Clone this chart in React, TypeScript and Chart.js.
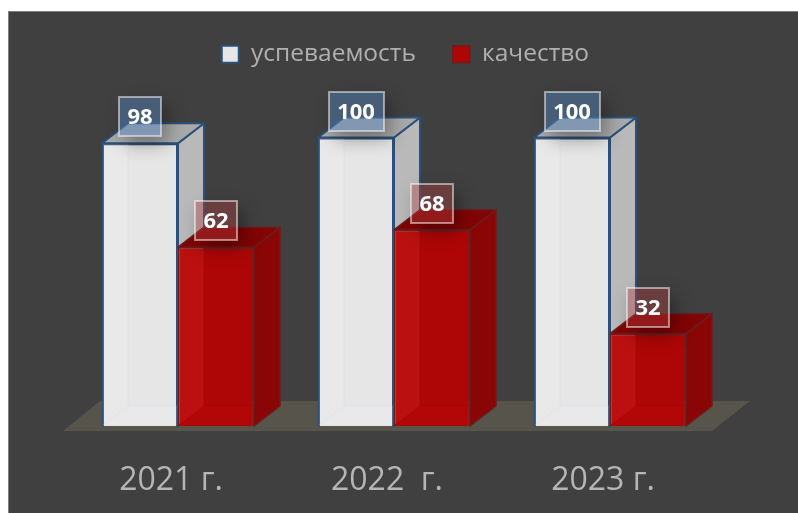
import React, { useEffect, useRef } from "react";
import { Chart, registerables } from "chart.js";

Chart.register(...registerables);

const categories = ["2021 г.", "2022  г.", "2023 г."];
const uspevaemost = [98, 100, 100];
const kachestvo = [62, 68, 32];

const FONT = '"Open Sans", sans-serif';
const DX = 26;
const DY = 20;

const faces: any[] = [
  {
    side: "#b9b9b9", top: "#a9a9a9", stroke: "#2c5079", lw: 2,
    strip: "rgba(255,255,255,0.14)", floor: "rgba(255,255,255,0.12)", inner: "rgba(190,210,235,0.22)",
    boxFill: "rgba(79,129,189,0.45)",
  },
  {
    side: "#8a0606", top: "#820404", stroke: "#6b1e1e", lw: 1.5,
    strip: "rgba(255,70,70,0.16)", floor: "rgba(255,30,30,0.07)", inner: "rgba(150,0,0,0.3)",
    boxFill: "rgba(170,60,60,0.4)",
  },
];

function poly(ctx: CanvasRenderingContext2D, pts: number[][], fill: string | null, stroke?: string, lw?: number) {
  ctx.beginPath();
  pts.forEach((p, i) => (i ? ctx.lineTo(p[0], p[1]) : ctx.moveTo(p[0], p[1])));
  ctx.closePath();
  if (fill) {
    ctx.fillStyle = fill;
    ctx.fill();
  }
  if (stroke) {
    ctx.strokeStyle = stroke;
    ctx.lineWidth = lw || 1;
    ctx.lineJoin = "round";
    ctx.stroke();
  }
}

function drawBack(ctx: CanvasRenderingContext2D, meta: any, f: any) {
  ctx.save();
  meta.data.forEach((b: any) => {
    const r = b.x + b.width / 2;
    const l = b.x - b.width / 2;
    poly(ctx, [[r, b.y], [r + DX, b.y - DY], [r + DX, b.base - DY], [r, b.base]], f.side, f.stroke, f.lw);
    poly(ctx, [[l, b.y], [l + DX, b.y - DY], [r + DX, b.y - DY], [r, b.y]], f.top, f.stroke, f.lw);
  });
  ctx.restore();
}

function drawGlass(ctx: CanvasRenderingContext2D, meta: any, f: any) {
  ctx.save();
  meta.data.forEach((b: any) => {
    const r = b.x + b.width / 2 - 1;
    const l = b.x - b.width / 2 + 1;
    const t = b.y + 1;
    const bb = b.base - 1;
    poly(ctx, [[l, t], [l + DX - 1, t], [l + DX - 1, bb - DY + 1], [l, bb]], f.strip);
    poly(ctx, [[l, bb], [l + DX - 1, bb - DY + 1], [r, bb - DY + 1], [r, bb]], f.floor);
    ctx.strokeStyle = f.inner;
    ctx.lineWidth = 1;
    ctx.beginPath();
    ctx.moveTo(l + DX - 1, t);
    ctx.lineTo(l + DX - 1, bb - DY + 1);
    ctx.lineTo(l, bb);
    ctx.moveTo(l + DX - 1, bb - DY + 1);
    ctx.lineTo(r, bb - DY + 1);
    ctx.stroke();
  });
  ctx.restore();
}

const scene3d = {
  id: "scene3d",
  afterLayout(chart: any) {
    const l = chart.legend;
    if (l) {
      l.left += 11.4;
      l.right += 11.4;
      l.top -= 61;
      l.bottom -= 61;
    }
  },
  beforeDraw(chart: any) {
    const { ctx, width, height } = chart;
    ctx.save();
    ctx.fillStyle = "#404040";
    ctx.fillRect(0, 0, width, height);
    ctx.fillStyle = "#7f7f7f";
    ctx.fillRect(0, 0, width, 1);
    ctx.fillRect(0, 0, 1, height);
    ctx.restore();
  },
  beforeDatasetsDraw(chart: any) {
    const { ctx, chartArea } = chart;
    const base = chart.scales.y.getPixelForValue(0);
    ctx.save();
    poly(
      ctx,
      [
        [chartArea.left - 7, base + 5],
        [chartArea.right - 6, base + 5],
        [chartArea.right + 32, base - 25],
        [chartArea.left + 30, base - 25],
      ],
      "#57544c"
    );
    ctx.restore();
  },
  // Chart.js paints the last dataset first; the first series must lie beneath
  // the second here, so it is painted from the second series' hook.
  beforeDatasetDraw(chart: any, args: any) {
    const { ctx } = chart;
    if (args.index === 0) return false;
    const first = chart.getDatasetMeta(0);
    drawBack(ctx, first, faces[0]);
    first.controller.draw();
    drawGlass(ctx, first, faces[0]);
    drawBack(ctx, args.meta, faces[args.index]);
    return true;
  },
  afterDatasetDraw(chart: any, args: any) {
    if (args.index !== 0) drawGlass(chart.ctx, args.meta, faces[args.index]);
  },
  afterDatasetsDraw(chart: any) {
    const { ctx } = chart;
    chart.data.datasets.forEach((ds: any, i: number) => {
      const f = faces[i];
      chart.getDatasetMeta(i).data.forEach((b: any, j: number) => {
        const text = String(ds.data[j]);
        ctx.save();
        ctx.font = `bold 22px ${FONT}`;
        const w = Math.round(ctx.measureText(text).width) + 17;
        const h = 39;
        const x = Math.round(b.x - w / 2);
        const y = Math.round(b.y - 26.5 - h / 2);
        // soft shadow, outside the box only
        ctx.save();
        ctx.beginPath();
        ctx.rect(0, 0, chart.width, chart.height);
        ctx.rect(x, y, w, h);
        ctx.clip("evenodd");
        ctx.shadowColor = "rgba(0,0,0,0.35)";
        ctx.shadowBlur = 18;
        ctx.shadowOffsetX = 6 + 3000;
        ctx.shadowOffsetY = 8;
        ctx.fillStyle = "#000";
        ctx.fillRect(x - 3000, y, w, h);
        ctx.restore();
        ctx.fillStyle = f.boxFill;
        ctx.fillRect(x, y, w, h);
        ctx.strokeStyle = "rgba(255,255,255,0.5)";
        ctx.lineWidth = 2;
        ctx.strokeRect(x, y, w, h);
        ctx.fillStyle = "#ffffff";
        ctx.textAlign = "center";
        ctx.textBaseline = "middle";
        ctx.fillText(text, b.x, y + h / 2 + 1);
        ctx.restore();
      });
    });
  },
};

export default function App() {
  const ref = useRef<HTMLCanvasElement | null>(null);
  useEffect(() => {
    if (!ref.current) return;
    const chart = new Chart(ref.current, {
      type: "bar",
      data: {
        labels: categories,
        datasets: [
          {
            label: "успеваемость",
            data: uspevaemost,
            backgroundColor: "#e6e6e6",
            borderColor: "#2c5079",
            borderWidth: 2,
          },
          {
            label: "качество",
            data: kachestvo,
            backgroundColor: "#ae0606",
            borderColor: "#6b1e1e",
            borderWidth: 1.5,
          },
        ],
      },
      options: {
        responsive: false,
        animation: false,
        layout: { padding: { left: 62, right: 80, top: 55, bottom: 15 } },
        datasets: { bar: { categoryPercentage: 152 / 216, barPercentage: 1 } },
        scales: {
          x: {
            grid: { display: false },
            border: { display: false },
            afterFit(scale: any) {
              scale.height = 72;
            },
            ticks: { color: "#b5b5b5", font: { family: FONT, size: 32 }, padding: 28, labelOffset: -7, maxRotation: 0 },
          },
          y: { display: false, min: 0, max: 100 },
        },
        plugins: {
          tooltip: { enabled: false },
          legend: {
            position: "top",
            labels: {
              color: "#b0b0b0",
              font: { family: FONT, size: 24.5 },
              boxWidth: 17,
              boxHeight: 17,
              padding: 37,
            },
          },
        },
      },
      plugins: [scene3d],
    } as any);
    return () => chart.destroy();
  }, []);
  return (
    <canvas
      ref={ref}
      width={790}
      height={502}
      style={{ position: "fixed", left: 8, top: 11, display: "block" }}
    />
  );
}
